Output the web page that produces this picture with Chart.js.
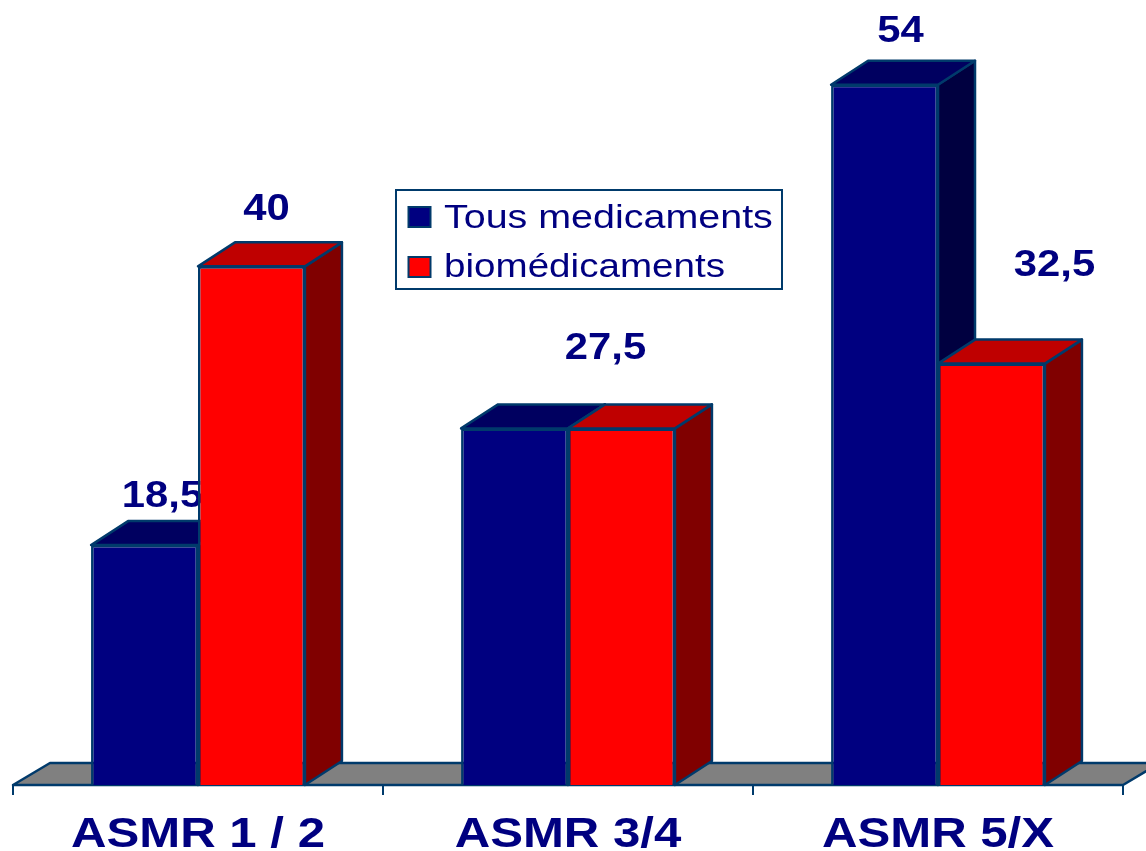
<!DOCTYPE html>
<html lang="fr">
<head>
<meta charset="utf-8">
<title>ASMR</title>
<script src="https://cdn.jsdelivr.net/npm/chart.js@4"></script>
<style>html,body{margin:0;padding:0;background:#fff;overflow:hidden}canvas{display:block}</style>
</head>
<body>
<canvas id="c" width="1146" height="851"></canvas>
<script>
const categories = ["ASMR 1 / 2", "ASMR 3/4", "ASMR 5/X"];
const seriesNames = ["Tous medicaments", "biomédicaments"];
const tousMedicaments = [18.5, 27.5, 54];
const biomedicaments = [40, 27.5, 32.5];
const tousLabels = ["18,5", null, "54"];
const bioLabels = ["40", "27,5", "32,5"];

const OUTLINE = "#003A6B", NAVY = "#000080", FONT = '"Liberation Sans", Arial, sans-serif';
const DX = 37, DY = 24, STRETCH = 1.13;
const styles = [
  {front: NAVY, top: "#000060", side: "#000040"},
  {front: "#FF0000", top: "#BF0000", side: "#800000"}
];
// hand-placed label offsets relative to the bar top centre: [dx, baseline dy]
const labelOffsets = [
  [[18, -38], null, [16, -43]],
  [[15, -46], [-16, -69], [63, -88]]
];
const labelSets = [tousLabels, bioLabels];
const legendRows = [[207, 228, 1.16], [257, 277, 1.135]];

function stretchedText(ctx, text, cx, y, font, color, align, sx) {
  ctx.save();
  ctx.font = font;
  ctx.fillStyle = color;
  ctx.textAlign = align;
  ctx.textBaseline = "alphabetic";
  ctx.translate(cx, y);
  ctx.scale(sx, 1);
  ctx.fillText(text, 0, 0);
  ctx.restore();
}
function poly(ctx, pts, fill) {
  ctx.beginPath();
  pts.forEach((p, i) => i ? ctx.lineTo(p[0], p[1]) : ctx.moveTo(p[0], p[1]));
  ctx.closePath();
  ctx.fillStyle = fill;
  ctx.fill();
  ctx.strokeStyle = OUTLINE;
  ctx.lineWidth = 2.5;
  ctx.lineJoin = "round";
  ctx.stroke();
}
const plugin3d = {
  id: "plugin3d",
  beforeDraw(chart) {
    const {ctx, chartArea: a} = chart;
    const y0 = chart.scales.y.getPixelForValue(0);
    ctx.save();
    poly(ctx, [[a.left, y0], [a.left + 37, y0 - 22], [a.right + 37, y0 - 22], [a.right, y0]], "#808080");
    ctx.restore();
  },
  // Series are painted left to right so that the red bars overlap the blue ones.
  beforeDatasetsDraw(chart) {
    const {ctx} = chart;
    [0, 1].forEach(index => {
      const meta = chart.getDatasetMeta(index), st = styles[index];
      ctx.save();
      meta.data.forEach(bar => {
        const p = bar.getProps(["x", "y", "base", "width"], true);
        const l = p.x - p.width / 2, r = p.x + p.width / 2;
        poly(ctx, [[r, p.y], [r + DX, p.y - DY], [r + DX, p.base - DY], [r, p.base]], st.side);
        poly(ctx, [[l, p.y], [l + DX, p.y - DY], [r + DX, p.y - DY], [r, p.y]], st.top);
      });
      ctx.restore();
      meta.controller.draw();
      const set = labelSets[index], off = labelOffsets[index];
      meta.data.forEach((bar, i) => {
        if (!set[i]) return;
        const p = bar.getProps(["x", "y"], true);
        stretchedText(ctx, set[i], p.x + off[i][0], p.y + off[i][1], "bold 37px " + FONT, NAVY, "center", STRETCH);
      });
    });
    return false;
  },
  afterDraw(chart) {
    const {ctx} = chart, x = chart.scales.x;
    categories.forEach((c, i) => {
      stretchedText(ctx, c, x.getPixelForValue(i), 847, "bold 42px " + FONT, NAVY, "center", 1.17);
    });
    // legend
    ctx.save();
    ctx.fillStyle = "#fff";
    ctx.strokeStyle = OUTLINE;
    ctx.lineWidth = 2;
    ctx.fillRect(396, 190, 386, 99);
    ctx.strokeRect(396, 190, 386, 99);
    legendRows.forEach((row, i) => {
      ctx.fillStyle = styles[i].front;
      ctx.fillRect(408.5, row[0], 22, 20);
      ctx.strokeRect(408.5, row[0], 22, 20);
      stretchedText(ctx, seriesNames[i], 444, row[1], "34px " + FONT, NAVY, "left", row[2]);
    });
    ctx.restore();
  }
};
new Chart(document.getElementById("c"), {
  type: "bar",
  data: {
    labels: categories,
    datasets: [
      {label: seriesNames[0], data: tousMedicaments, backgroundColor: styles[0].front},
      {label: seriesNames[1], data: biomedicaments, backgroundColor: styles[1].front}
    ]
  },
  options: {
    responsive: false,
    animation: false,
    layout: {padding: {left: 13, right: 23, top: 7, bottom: 56}},
    plugins: {legend: {display: false}, tooltip: {enabled: false}},
    datasets: {bar: {borderColor: OUTLINE, borderWidth: 2.5, barPercentage: 1, categoryPercentage: 0.578}},
    scales: {
      x: {
        offset: true,
        ticks: {display: false},
        grid: {display: true, drawOnChartArea: false, drawTicks: true, tickLength: 10, color: OUTLINE, lineWidth: 2},
        border: {display: true, color: OUTLINE, width: 2}
      },
      y: {display: false, min: 0, max: 60}
    }
  },
  plugins: [plugin3d]
});
</script>
</body>
</html>
